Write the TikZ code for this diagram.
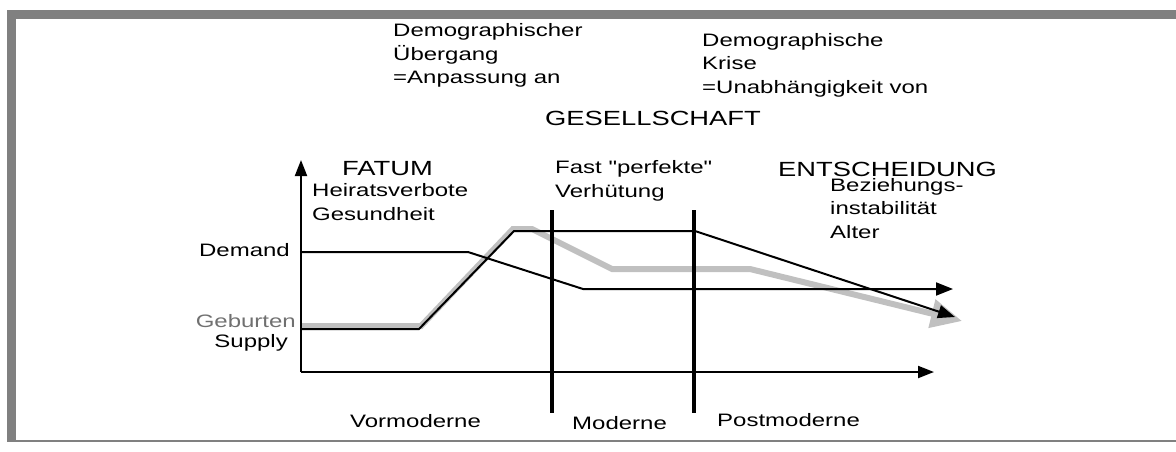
\documentclass[tikz,border=0pt]{standalone}
\usepackage{fontspec}
\setmainfont{Liberation Sans}[FakeStretch=1.333, Ligatures=TeXOff]
\usetikzlibrary{arrows.meta}
\definecolor{framegray}{HTML}{808080}
\definecolor{curvegray}{HTML}{C0C0C0}
\definecolor{textgray}{HTML}{707070}
\tikzset{
  bigtxt/.style={font=\fontsize{20.5}{24}\selectfont, inner sep=0pt, anchor=base west},
  smalltxt/.style={font=\fontsize{18}{23.5}\selectfont, inner sep=0pt, anchor=base west, align=left},
  axis/.style={line width=2pt, -{Triangle[length=16pt,width=12pt]}},
  curve/.style={line width=2pt, line join=miter},
  divider/.style={line width=3.5pt},
  blackhead/.style={-{Triangle[length=17pt,width=13pt]}},
}
\begin{document}
\begin{tikzpicture}[x=1pt,y=-1pt]
\useasboundingbox (0,0) rectangle (1176,451);
% frame
\fill[framegray] (7,10) rectangle (1176,19);
\fill[framegray] (7,10) rectangle (16,442);
\draw[framegray, line width=1.5pt] (16,441) -- (1176,441);

% coordinates
\coordinate (O) at (301,372);
\coordinate (ytip) at (301,160);
\coordinate (xtip) at (934,372);

% gray Geburten curve
\draw[curvegray, line width=6pt, line join=miter,
  -{Triangle[length=31pt,width=28pt]}]
  (301,326) -- (421,326) -- (513,229) -- (532,229) -- (612,269) -- (750,269) -- (962,321);

% demand curve
\draw[curve, blackhead] (301,252) -- (468,252) -- (583,289) -- (953,289);
% supply curve
\draw[curve, blackhead] (301,329) -- (419,329) -- (514,231) -- (695,231) -- (955,317);

% axes
\draw[axis] (O) -- (ytip);
\draw[axis] (O) -- (xtip);

% dividers
\draw[divider] (552,210) -- (552,413);
\draw[divider] (694,210) -- (694,413);

% texts (multi-line nodes: base anchor = baseline of last line)
\node[smalltxt] (uebergang) at (393,83.5) {Demographischer\\Übergang\\=Anpassung an};
\node[smalltxt] (krise) at (702,93) {Demographische\\Krise\\=Unabhängigkeit von};
\node[bigtxt] (gesellschaft) at (545,125) {GESELLSCHAFT};
\node[bigtxt] (fatum) at (342,175.5) {FATUM};
\node[smalltxt] (heirat) at (312,220) {Heiratsverbote\\Gesundheit};
\node[smalltxt] (fast) at (555,197) {Fast "perfekte"\\Verhütung};
\node[bigtxt] (entsch) at (778,176) {ENTSCHEIDUNG};
\node[smalltxt] (bez) at (830,238) {Beziehungs-\\instabilität\\Alter};
\node[smalltxt, anchor=base east] (demand) at (290,256) {Demand};
\node[smalltxt, anchor=base east, text=textgray] (geburten) at (296,327) {Geburten};
\node[smalltxt, anchor=base east] (supply) at (288,347) {Supply};
\node[smalltxt] (vormod) at (350,427) {Vormoderne};
\node[smalltxt] (mod) at (572,429) {Moderne};
\node[smalltxt] (postmod) at (717,426) {Postmoderne};
\end{tikzpicture}
\end{document}
